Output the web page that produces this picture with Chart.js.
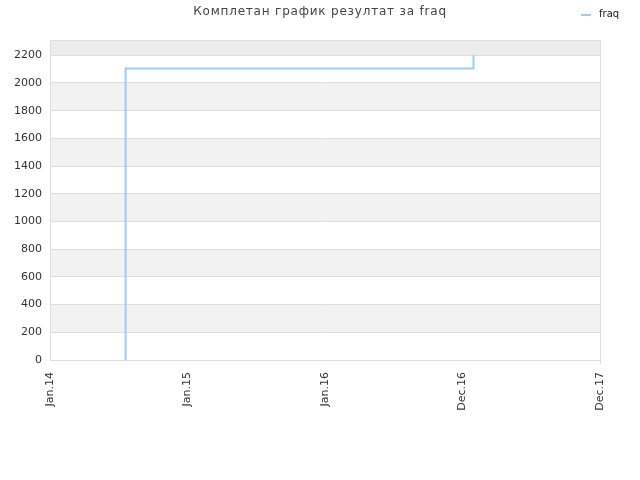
<!DOCTYPE html>
<html>
<head>
<meta charset="utf-8">
<script src="https://cdn.jsdelivr.net/npm/chart.js@4"></script>
<style>
    html, body { margin: 0; padding: 0; background: #fff; }
    #wrap { width: 640px; height: 480px; }
</style>
</head>
<body>
<div id="wrap"><canvas id="chart"></canvas></div>
<script>
// === Data ===
const titleText = 'Комплетан график резултат за fraq';
const seriesName = 'fraq';
const xTickLabels = ['Jan.14', 'Jan.15', 'Jan.16', 'Dec.16', 'Dec.17'];
// x is the position along the tick labels above (0 = Jan.14, 4 = Dec.17)
const pointX = [0.55, 0.55, 3.08, 3.08];
const pointY = [0, 2105, 2105, 2200];

const fontFamily = '"DejaVu Sans", Verdana, sans-serif';
const lineColor = '#a0cbf4';

// === Plugins ===
// alternating horizontal bands behind the plot
const bandPlugin = {
    id: 'bands',
    beforeDraw(chart) {
        const { ctx, chartArea, scales } = chart;
        const ticks = scales.y.ticks;
        ctx.save();
        for (let i = 0; i < ticks.length - 1; i++) {
            const yA = scales.y.getPixelForValue(ticks[i].value);
            const yB = scales.y.getPixelForValue(ticks[i + 1].value);
            let fill = null;
            if (i === ticks.length - 2) fill = '#ececec';
            else if (i % 2 === 1) fill = '#f2f2f2';
            if (fill) {
                ctx.fillStyle = fill;
                ctx.fillRect(chartArea.left, yB, chartArea.right - chartArea.left, yA - yB);
            }
        }
        ctx.restore();
    }
};

// title and legend share one row above the plot
const headerPlugin = {
    id: 'header',
    afterDraw(chart) {
        const ctx = chart.ctx;
        ctx.save();
        ctx.font = '12px ' + fontFamily;
        ctx.letterSpacing = '0.8px';
        ctx.fillStyle = '#444';
        ctx.textAlign = 'center';
        ctx.textBaseline = 'middle';
        ctx.fillText(titleText, 320, 12);

        ctx.letterSpacing = '0px';
        ctx.fillStyle = lineColor;
        ctx.fillRect(581, 14, 10, 2);
        ctx.font = '10px ' + fontFamily;
        ctx.fillStyle = '#222';
        ctx.textAlign = 'left';
        ctx.fillText(seriesName, 599, 14);
        ctx.restore();
    }
};

// === Chart ===
const chart = new Chart(document.getElementById('chart').getContext('2d'), {
    type: 'line',
    data: {
        datasets: [{
            label: seriesName,
            data: pointX.map((x, i) => ({ x: x, y: pointY[i] })),
            borderColor: lineColor,
            backgroundColor: lineColor,
            borderWidth: 2,
            pointRadius: 0,
            tension: 0,
            fill: false
        }]
    },
    options: {
        responsive: true,
        maintainAspectRatio: false,
        animation: false,
        layout: { padding: { left: 0, right: 40, top: 40, bottom: 60 } },
        plugins: {
            title: { display: false },
            tooltip: { enabled: false },
            legend: { display: false }
        },
        scales: {
            x: {
                type: 'linear',
                min: 0,
                max: xTickLabels.length - 1,
                ticks: {
                    stepSize: 1,
                    autoSkip: false,
                    maxRotation: 90,
                    minRotation: 90,
                    color: '#333',
                    font: { family: fontFamily, size: 11 },
                    padding: 8,
                    callback: (v) => xTickLabels[v] ?? ''
                },
                grid: {
                    drawTicks: true,
                    tickLength: 4,
                    color: (c) => (c.tick && c.tick.value === xTickLabels.length - 1) ? '#dddddd' : 'rgba(0,0,0,0)'
                },
                border: { display: true, color: '#dddddd' },
                afterFit: (s) => { s.height = 60; }
            },
            y: {
                min: 0,
                max: 2310,
                ticks: {
                    stepSize: 200,
                    color: '#333',
                    font: { family: fontFamily, size: 11 },
                    padding: 8,
                    callback: (v) => (v % 200 === 0 ? v : '')
                },
                grid: { color: '#dddddd', drawTicks: false },
                border: { display: true, color: '#dddddd' },
                afterFit: (s) => { s.width = 50; }
            }
        }
    },
    plugins: [bandPlugin, headerPlugin]
});
</script>
</body>
</html>
